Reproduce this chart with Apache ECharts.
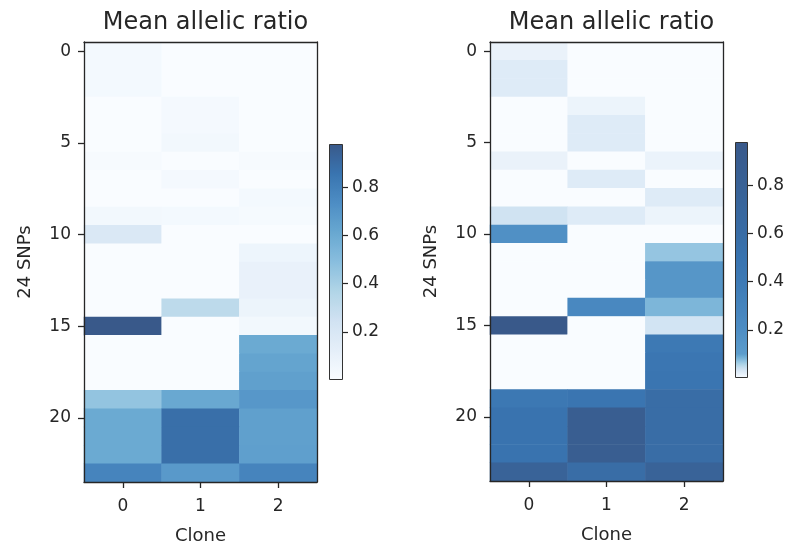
<!DOCTYPE html>
<html><head><meta charset="utf-8">
<script src="https://cdn.jsdelivr.net/npm/echarts@6/dist/echarts.min.js"></script>
<style>html,body{margin:0;padding:0;background:#fff}#c{width:791px;height:546px}</style>
</head><body><div id="c"></div>
<script>
// ---- data ----
const clones = ['0', '1', '2'];
const snpLabels = ['0','1','2','3','4','5','6','7','8','9','10','11','12','13','14','15','16','17','18','19','20','21','22','23'];
const chartTitle = 'Mean allelic ratio';
// rows = SNP 0..23, columns = clone 0..2
const leftRatio = [
  [0.035, 0.000, 0.000],
  [0.035, 0.000, 0.000],
  [0.035, 0.000, 0.000],
  [0.000, 0.030, 0.000],
  [0.000, 0.030, 0.000],
  [0.000, 0.045, 0.000],
  [0.020, 0.000, 0.020],
  [0.000, 0.030, 0.000],
  [0.000, 0.000, 0.035],
  [0.040, 0.035, 0.025],
  [0.190, 0.000, 0.000],
  [0.000, 0.000, 0.075],
  [0.000, 0.000, 0.100],
  [0.000, 0.000, 0.100],
  [0.000, 0.320, 0.080],
  [0.980, 0.000, 0.045],
  [0.000, 0.000, 0.600],
  [0.000, 0.000, 0.630],
  [0.000, 0.000, 0.650],
  [0.460, 0.610, 0.690],
  [0.600, 0.880, 0.650],
  [0.600, 0.880, 0.650],
  [0.600, 0.880, 0.655],
  [0.780, 0.680, 0.780]
];
const rightRatio = [
  [0.014, 0.000, 0.000],
  [0.025, 0.000, 0.000],
  [0.025, 0.000, 0.000],
  [0.000, 0.012, 0.000],
  [0.000, 0.025, 0.000],
  [0.000, 0.025, 0.000],
  [0.014, 0.000, 0.013],
  [0.000, 0.025, 0.000],
  [0.000, 0.000, 0.025],
  [0.036, 0.025, 0.012],
  [0.180, 0.000, 0.000],
  [0.000, 0.000, 0.068],
  [0.000, 0.000, 0.140],
  [0.000, 0.000, 0.140],
  [0.000, 0.250, 0.080],
  [0.980, 0.000, 0.035],
  [0.000, 0.000, 0.420],
  [0.000, 0.000, 0.460],
  [0.000, 0.000, 0.480],
  [0.430, 0.470, 0.590],
  [0.500, 0.880, 0.590],
  [0.500, 0.880, 0.590],
  [0.500, 0.880, 0.590],
  [0.770, 0.590, 0.780]
];
const colorbarTicks = [0.2, 0.4, 0.6, 0.8];
const vMin = 0, vMax = 0.98;

// ---- colour maps (Blues, 80% opacity on white) ----
const bluesStops = ['#f9fcff','#e5eff9','#d1e2f2','#b1d5e7','#89bede','#68a8d1','#4d8dc4','#3974b0','#39598a'];
// right-hand map: value knots -> position in Blues
const rightKnotV = [0, 0.1, 0.2, 0.4, 0.6, 0.8, 0.98];
const rightKnotX = [0, 0.68, 0.75, 0.845, 0.91, 0.96, 1];

function hex2rgb(h){return [parseInt(h.substr(1,2),16),parseInt(h.substr(3,2),16),parseInt(h.substr(5,2),16)];}
function blues(x){
  x = Math.max(0, Math.min(1, x));
  const p = x * (bluesStops.length - 1), i = Math.min(Math.floor(p), bluesStops.length - 2), t = p - i;
  const a = hex2rgb(bluesStops[i]), b = hex2rgb(bluesStops[i+1]);
  return 'rgb(' + a.map((v,k)=>Math.round(v + (b[k]-v)*t)).join(',') + ')';
}
function interp(v, xs, ys){
  for (let i = 0; i < xs.length - 1; i++) {
    if (v <= xs[i+1]) return ys[i] + (ys[i+1]-ys[i]) * (v - xs[i]) / (xs[i+1]-xs[i]);
  }
  return ys[ys.length-1];
}
const N = 99;
const leftColors = [], rightColors = [];
for (let i = 0; i < N; i++) {
  const v = vMin + (vMax - vMin) * i / (N - 1);
  leftColors.push(blues((v - vMin) / (vMax - vMin)));
  rightColors.push(blues(interp(v, rightKnotV, rightKnotX)));
}
function gradient(colors){
  return new echarts.graphic.LinearGradient(0, 1, 0, 0,
    colors.map((c, i) => ({offset: i / (colors.length - 1), color: c})));
}
function cells(rows){
  const out = [];
  rows.forEach((row, r) => row.forEach((v, c) => out.push([c, r, v])));
  return out;
}

const FONT = 'DejaVu Sans';
const INK = '#262626';
const tickFont = 17, nameFont = 18;

function heatAxes(gi){
  return {
    x: [
      {gridIndex: gi, type: 'category', data: clones, position: 'bottom', z: 5,
       axisLine: {show: true, onZero: false, lineStyle: {color: INK, width: 1.3}},
       axisTick: {show: true, alignWithLabel: true, interval: 0, length: 6, lineStyle: {color: INK, width: 1.3}},
       axisLabel: {color: INK, fontSize: tickFont, fontFamily: FONT, margin: 16, interval: 0},
       splitLine: {show: false},
       name: 'Clone', nameLocation: 'middle', nameGap: 45,
       nameTextStyle: {color: INK, fontSize: nameFont, fontFamily: FONT}},
      {gridIndex: gi, type: 'category', data: clones, position: 'top', z: 5,
       axisLine: {show: true, onZero: false, lineStyle: {color: INK, width: 1.3}},
       axisTick: {show: false}, axisLabel: {show: false}, splitLine: {show: false}}
    ],
    y: [
      {gridIndex: gi, type: 'category', data: snpLabels, inverse: true, position: 'left', z: 5,
       axisLine: {show: true, onZero: false, lineStyle: {color: INK, width: 1.3}},
       axisTick: {show: true, alignWithLabel: true, interval: 4, length: 6, lineStyle: {color: INK, width: 1.3}},
       axisLabel: {color: INK, fontSize: tickFont, fontFamily: FONT, margin: 13, interval: 4},
       splitLine: {show: false},
       name: '24 SNPs', nameLocation: 'middle', nameGap: 50,
       nameTextStyle: {color: INK, fontSize: nameFont, fontFamily: FONT}},
      {gridIndex: gi, type: 'category', data: snpLabels, inverse: true, position: 'right', z: 5,
       axisLine: {show: true, onZero: false, lineStyle: {color: INK, width: 1.3}},
       axisTick: {show: false}, axisLabel: {show: false}, splitLine: {show: false}}
    ]
  };
}
function cbarAxes(gi){
  return {
    x: {gridIndex: gi, type: 'category', data: ['cb'], show: false},
    y: {gridIndex: gi, type: 'value', min: vMin, max: vMax, position: 'right', z: 5,
        axisLine: {show: false},
        axisTick: {show: true, customValues: colorbarTicks, length: 5, lineStyle: {color: INK, width: 1.2}},
        axisLabel: {color: INK, fontSize: tickFont, fontFamily: FONT, margin: 9, customValues: colorbarTicks,
                    formatter: v => Number(v).toFixed(1)},
        splitLine: {show: false}}
  };
}
const hA = heatAxes(0), hB = heatAxes(1), cA = cbarAxes(2), cB = cbarAxes(3);

const option = {
  backgroundColor: '#ffffff',
  animation: false,
  textStyle: {fontFamily: FONT},
  title: [
    {text: chartTitle, left: 200.5, top: 6, textAlign: 'center',
     textStyle: {color: INK, fontSize: 24, fontWeight: 'normal', fontFamily: FONT}},
    {text: chartTitle, left: 606.5, top: 6, textAlign: 'center',
     textStyle: {color: INK, fontSize: 24, fontWeight: 'normal', fontFamily: FONT}}
  ],
  grid: [
    {left: 84, top: 42, width: 233, height: 440, outerBoundsMode: 'none', containLabel: false},
    {left: 490, top: 42, width: 233, height: 439, outerBoundsMode: 'none', containLabel: false},
    {left: 329, top: 144, width: 14, height: 236, outerBoundsMode: 'none', containLabel: false},
    {left: 735, top: 142, width: 13, height: 236, outerBoundsMode: 'none', containLabel: false}
  ],
  xAxis: [hA.x[0], hA.x[1], hB.x[0], hB.x[1], cA.x, cB.x],
  yAxis: [hA.y[0], hA.y[1], hB.y[0], hB.y[1], cA.y, cB.y],
  visualMap: [
    {type: 'continuous', show: false, seriesIndex: 0, min: vMin, max: vMax, inRange: {color: leftColors}},
    {type: 'continuous', show: false, seriesIndex: 1, min: vMin, max: vMax, inRange: {color: rightColors}}
  ],
  series: [
    {type: 'heatmap', xAxisIndex: 0, yAxisIndex: 0, data: cells(leftRatio), silent: true, progressive: 0},
    {type: 'heatmap', xAxisIndex: 2, yAxisIndex: 2, data: cells(rightRatio), silent: true, progressive: 0},
    {type: 'bar', xAxisIndex: 4, yAxisIndex: 4, data: [vMax], barWidth: '100%', silent: true,
     itemStyle: {color: gradient(leftColors), borderColor: '#333', borderWidth: 1}},
    {type: 'bar', xAxisIndex: 5, yAxisIndex: 5, data: [vMax], barWidth: '100%', silent: true,
     itemStyle: {color: gradient(rightColors), borderColor: '#333', borderWidth: 1}}
  ]
};
const chart = echarts.init(document.getElementById('c'), null, {renderer: 'canvas'});
chart.setOption(option);
</script>
</body></html>
